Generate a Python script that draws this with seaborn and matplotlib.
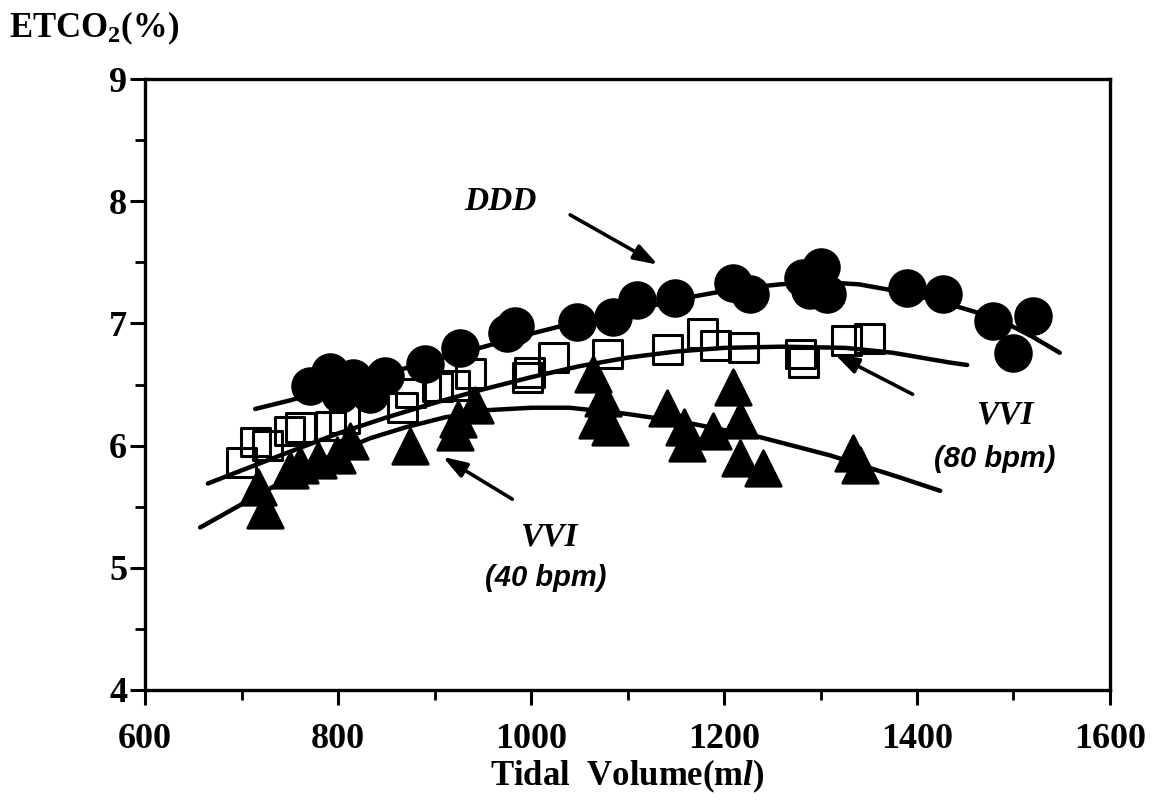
import numpy as np
import pandas as pd
import matplotlib
matplotlib.use('Agg')
import matplotlib.pyplot as plt
import seaborn as sns
from matplotlib.ticker import MultipleLocator

# --- data (tidal volume ml, ETCO2 %) ---
ddd_x = [771, 792, 802, 815, 833, 849, 890, 926, 975, 983, 1048, 1085, 1110, 1149,
         1209, 1227, 1282, 1289, 1300, 1307, 1390, 1427, 1479, 1499, 1520]
ddd_y = [6.49, 6.60, 6.42, 6.55, 6.42, 6.57, 6.67, 6.80, 6.92, 6.98, 7.01, 7.05, 7.19, 7.21,
         7.33, 7.24, 7.37, 7.27, 7.46, 7.24, 7.29, 7.24, 7.02, 6.76, 7.06]

vvi80_x = [700, 714, 727, 750, 761, 792, 807, 867, 875, 903, 921, 937, 996, 998,
           1023, 1079, 1141, 1178, 1191, 1220, 1279, 1282, 1327, 1351]
vvi80_y = [5.86, 6.03, 6.00, 6.12, 6.15, 6.16, 6.22, 6.31, 6.43, 6.48, 6.49, 6.59, 6.56, 6.60,
           6.72, 6.75, 6.79, 6.92, 6.82, 6.80, 6.75, 6.68, 6.86, 6.88]

vvi40_x = [717, 724, 750, 761, 779, 799, 812, 875, 921, 924, 942, 1064, 1075, 1068,
           1082, 1141, 1158, 1162, 1189, 1209, 1217, 1217, 1240, 1334, 1341]
vvi40_y = [5.66, 5.47, 5.80, 5.84, 5.88, 5.92, 6.04, 6.00, 6.11, 6.22, 6.33, 6.59, 6.39, 6.21,
           6.15, 6.31, 6.15, 6.02, 6.12, 6.48, 6.21, 5.90, 5.82, 5.94, 5.84]

# fitted curves as drawn in the figure
ddd_fit_x = [714, 750, 800, 850, 900, 947, 992, 1037, 1100, 1168, 1210, 1258, 1300,
             1340, 1382, 1424, 1462, 1493, 1520, 1548]
ddd_fit_y = [6.30, 6.37, 6.48, 6.59, 6.70, 6.80, 6.90, 6.99, 7.10, 7.22, 7.28, 7.32, 7.34,
             7.32, 7.26, 7.18, 7.09, 7.00, 6.89, 6.76]
vvi80_fit_x = [665, 691, 750, 800, 850, 900, 950, 1000, 1050, 1100, 1150, 1200, 1260,
               1326, 1375, 1434, 1452]
vvi80_fit_y = [5.69, 5.77, 5.95, 6.10, 6.23, 6.35, 6.46, 6.56, 6.65, 6.72, 6.77, 6.80, 6.81,
               6.80, 6.76, 6.68, 6.66]
vvi40_fit_x = [657, 700, 750, 800, 833, 870, 910, 954, 1000, 1040, 1099, 1160, 1237,
               1310, 1382, 1424]
vvi40_fit_y = [5.33, 5.52, 5.74, 5.95, 6.06, 6.15, 6.23, 6.29, 6.31, 6.31, 6.26, 6.19, 6.07,
               5.92, 5.74, 5.63]

sns.set_theme(style='ticks')
plt.rcParams['font.family'] = ['Liberation Serif', 'DejaVu Serif']
plt.rcParams['font.weight'] = 'bold'
plt.rcParams['axes.labelweight'] = 'bold'
for k in ['text.color', 'axes.labelcolor', 'xtick.color', 'ytick.color', 'axes.edgecolor']:
    plt.rcParams[k] = 'black'
plt.rcParams['mathtext.fontset'] = 'custom'
plt.rcParams['mathtext.rm'] = 'Liberation Serif:bold'
plt.rcParams['mathtext.it'] = 'Liberation Serif:italic:bold'
plt.rcParams['mathtext.bf'] = 'Liberation Serif:bold'

fig = plt.figure(figsize=(11.52, 8.07), dpi=100)
ax = fig.add_axes([0.126, 0.145, 0.8375, 0.757])

for fx, fy in [(ddd_fit_x, ddd_fit_y), (vvi80_fit_x, vvi80_fit_y), (vvi40_fit_x, vvi40_fit_y)]:
    sns.lineplot(x=fx, y=fy, color='black', lw=3.2, ax=ax, zorder=2, sort=False)

sns.scatterplot(x=vvi40_x, y=vvi40_y, marker='^', s=650, color='black', edgecolor='black',
                ax=ax, zorder=3)
sns.scatterplot(x=vvi80_x, y=vvi80_y, marker='s', s=430, facecolor='none', edgecolor='black',
                linewidth=2.2, ax=ax, zorder=4)
sns.scatterplot(x=ddd_x, y=ddd_y, marker='o', s=660, color='black', edgecolor='black',
                ax=ax, zorder=5)

ax.set_xlim(600, 1600)
ax.set_ylim(4, 9)
ax.xaxis.set_major_locator(MultipleLocator(200))
ax.xaxis.set_minor_locator(MultipleLocator(100))
ax.yaxis.set_major_locator(MultipleLocator(1))
ax.yaxis.set_minor_locator(MultipleLocator(0.5))
ax.tick_params(which='major', length=11, width=2.2, labelsize=26)
ax.tick_params(which='minor', length=7, width=2)
ax.tick_params(axis='x', which='major', pad=13)
ax.tick_params(axis='y', which='major', pad=2)
for s in ax.spines.values():
    s.set_linewidth(2.4)
    s.set_visible(True)

ax.set_xlabel('Tidal  Volume(m$\\mathit{l}$)', fontsize=25, fontweight='bold', labelpad=1)
ax.set_ylabel('')
fig.text(0.008, 0.965, 'ETCO$_\\mathbf{2}$(%)', fontsize=25, fontweight='bold',
         ha='left', va='center')

ann = dict(fontsize=24, fontweight='bold', fontstyle='italic', ha='center', va='center')
ax.text(968, 8.0, 'DDD', **ann)
ax.text(1491, 6.25, 'VVI', **ann)
ax.text(1481, 5.89, '(80 bpm)', family='Liberation Sans', fontsize=21, fontweight='bold',
        fontstyle='italic', ha='center', va='center')
ax.text(1018, 5.25, 'VVI', **ann)
ax.text(1015, 4.92, '(40 bpm)', family='Liberation Sans', fontsize=21, fontweight='bold',
        fontstyle='italic', ha='center', va='center')

arrow = dict(arrowstyle='-|>,head_length=1.2,head_width=0.4', color='black', lw=2.6)
ax.annotate('', xy=(1134, 7.47), xytext=(1038, 7.90), arrowprops=arrow)
ax.annotate('', xy=(1312, 6.76), xytext=(1398, 6.41), arrowprops=arrow)
ax.annotate('', xy=(906, 5.92), xytext=(983, 5.55), arrowprops=arrow)

fig.savefig('out.png', dpi=100)
